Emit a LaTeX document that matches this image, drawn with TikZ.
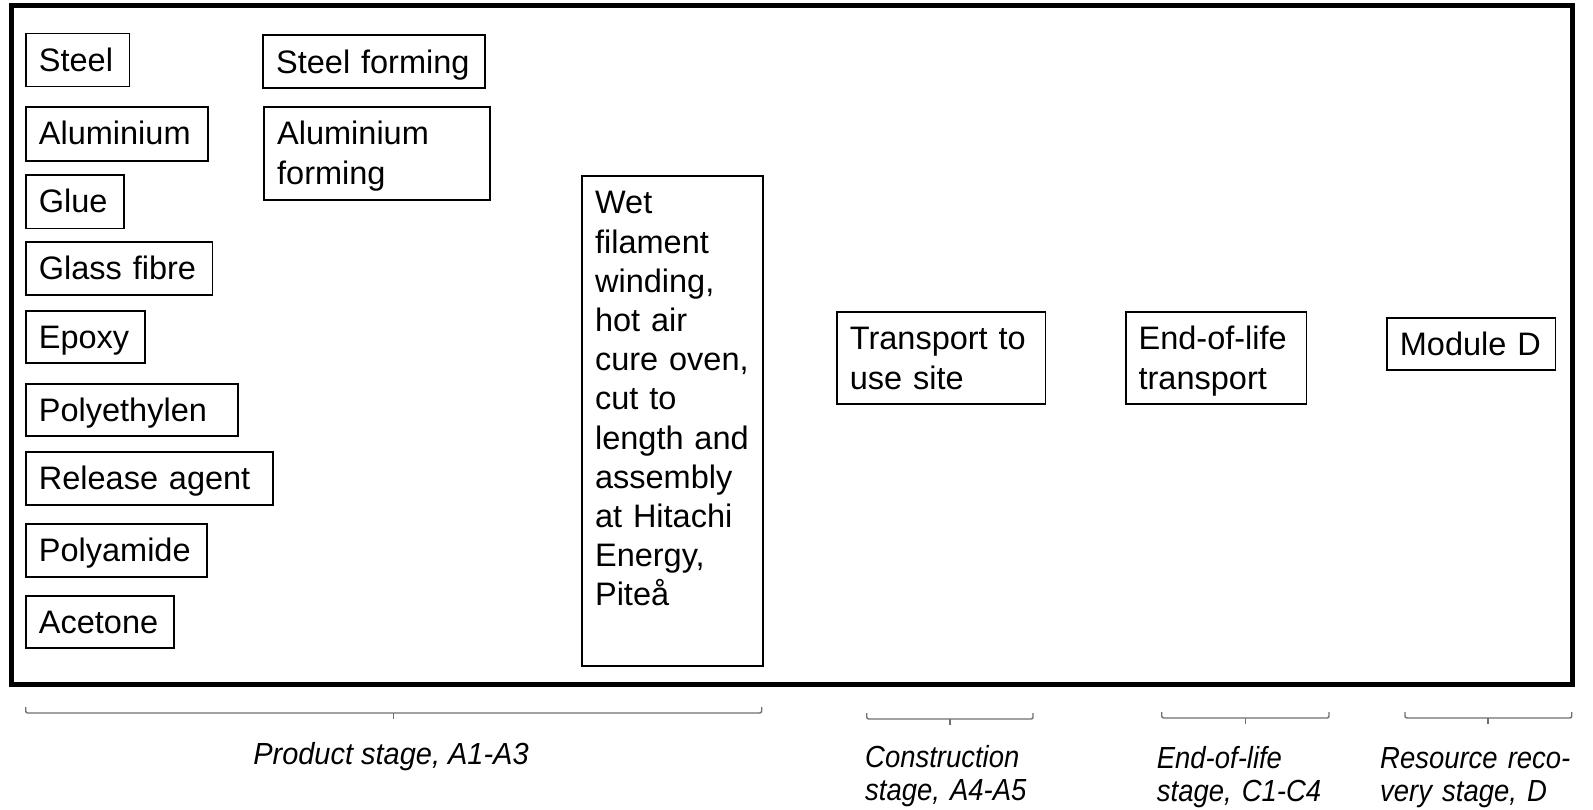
\documentclass[tikz,border=0pt]{standalone}
\usepackage{fontspec}
\newfontfamily\boxfont{Liberation Sans}
\newfontfamily\stagefont{Liberation Sans}[FakeStretch=0.9]
\newfontfamily\prodfont{Liberation Sans}[FakeStretch=0.95]
\definecolor{bracegray}{HTML}{707070}
\tikzset{
  box/.style={draw, line width=1.8pt, anchor=north west, inner xsep=13pt, inner ysep=0pt,
    align=left, text height=38pt, font=\boxfont\fontsize{32.5}{39.2}\selectfont},
  frame/.style={draw, line width=5pt},
  stagebrace/.style={draw=bracegray, line width=1.4pt, rounded corners=2pt},
  stagelabel/.style={inner sep=0pt, align=left, font=\stagefont\itshape\fontsize{30.5}{33}\selectfont}
}
\begin{document}
\begin{tikzpicture}[x=1pt,y=-1pt]
\useasboundingbox (0,0) rectangle (1593,809);
\fill[white] (0,0) rectangle (1593,809);
% outer frame
\draw[frame] (11.5,5) rectangle (1572,684.5);
% raw materials
\node[box, text width=77.5pt,  text depth=15pt]   (steel) at (25,32.5)  {Steel};
\node[box, text width=156pt,   text depth=16pt]   (alu)   at (25,106)   {Aluminium};
\node[box, text width=72pt,    text depth=15.5pt] (glue)  at (25,174)   {Glue};
\node[box, text width=160.5pt, text depth=15.3pt] (glass) at (25,240.7) {Glass fibre};
\node[box, text width=93pt,    text depth=14pt]   (epoxy) at (25,310)   {Epoxy};
\node[box, text width=186.3pt, text depth=14pt]   (pe)    at (25,383)   {Polyethylen};
\node[box, text width=221pt,   text depth=15pt]   (rel)   at (25,451)   {Release agent};
\node[box, text width=155pt,   text depth=15pt]   (pa)    at (25,523)   {Polyamide};
\node[box, text width=122.3pt, text depth=14pt]   (acet)  at (25,595)   {Acetone};
% forming
\node[box, text width=196pt,   text depth=15pt]   (sform) at (262.3,34.3) {Steel forming};
\node[box, text width=200pt,   text depth=55.3pt] (aform) at (263.3,106)  {Aluminium\\forming};
% manufacturing
\node[box, inner xsep=13.5pt, text width=154pt, text depth=452pt] (wet) at (580.7,175)
  {Wet\\filament\\winding,\\hot air\\cure oven,\\cut to\\length and\\assembly\\at Hitachi\\Energy,\\Piteå};
% later stages
\node[box, text width=182.5pt, text depth=54pt] (trans) at (836,311)    {Transport to\\use site};
\node[box, text width=154.9pt, text depth=54pt] (eolt)  at (1124.7,311) {End-of-life\\transport};
\node[box, text width=142.5pt, text depth=14pt] (modd)  at (1386,317)   {Module D};
% braces
\draw[stagebrace] (25.7,707) -- (25.7,713) -- (761.7,713) -- (761.7,707);
\draw[stagebrace] (393.7,713) -- (393.7,719);
\draw[stagebrace] (866.7,713) -- (866.7,719) -- (1033,719) -- (1033,713);
\draw[stagebrace] (950,719) -- (950,725);
\draw[stagebrace] (1161.7,712) -- (1161.7,718) -- (1329,718) -- (1329,712);
\draw[stagebrace] (1245.7,718) -- (1245.7,724);
\draw[stagebrace] (1405,712) -- (1405,718) -- (1571.7,718) -- (1571.7,712);
\draw[stagebrace] (1488,718) -- (1488,724);
% stage labels
\node[stagelabel, anchor=base, font=\prodfont\itshape\fontsize{30.5}{33}\selectfont] (lprod) at (391,764.5) {Product stage, A1-A3};
\node[stagelabel, anchor=base west, text width=200pt] (lcons) at (865,767) {Construction\\stage, A4-A5};
\node[stagelabel, anchor=base west, text width=200pt] (leol) at (1156.7,768) {End-of-life\\stage, C1-C4};
\node[stagelabel, anchor=base west, text width=210pt] (lres) at (1380,768) {Resource reco-\\very stage, D};
\end{tikzpicture}
\end{document}
